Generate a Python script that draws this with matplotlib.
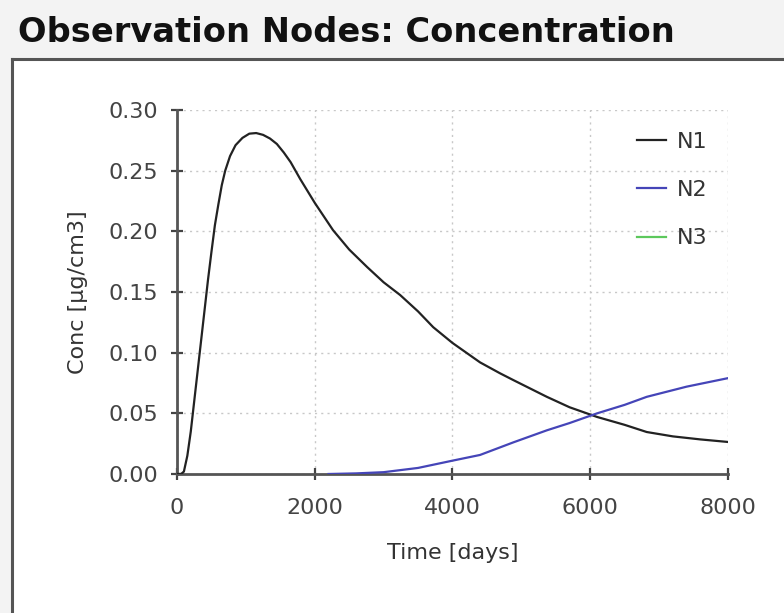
import matplotlib
matplotlib.use("Agg")
import matplotlib.pyplot as plt
from matplotlib.patches import Rectangle
from matplotlib.lines import Line2D

# Concentration time series at the observation nodes
n1_time = [0, 60, 100, 150, 200, 250, 300, 350, 400, 450, 500, 550, 600,
           650, 700, 770, 850, 950, 1050, 1150, 1250, 1350, 1450, 1550, 1650,
           1790, 2000, 2265, 2500, 2760, 3000, 3240, 3500, 3720, 4000, 4400,
           4690, 4880, 5370, 5700, 6100, 6500, 6820, 7200, 7600, 8000]
n1_conc = [0.0, 0.0, 0.002, 0.015, 0.035, 0.06, 0.085, 0.11, 0.135, 0.16,
           0.183, 0.205, 0.222, 0.238, 0.25, 0.262, 0.271, 0.277, 0.2805,
           0.281, 0.2795, 0.2765, 0.272, 0.265, 0.257, 0.243, 0.2235, 0.201,
           0.185, 0.1706, 0.158, 0.1475, 0.134, 0.121, 0.108, 0.092, 0.083,
           0.0775, 0.0636, 0.055, 0.047, 0.0405, 0.0346, 0.031, 0.0285, 0.0264]

n2_time = [2200, 2600, 3000, 3500, 4000, 4400, 4880, 5370, 5700, 6100,
           6500, 6820, 7400, 8000]
n2_conc = [0.0, 0.0005, 0.0015, 0.005, 0.011, 0.0157, 0.026, 0.036, 0.042,
           0.050, 0.057, 0.0636, 0.072, 0.079]

n3_time = []
n3_conc = []

series_names = ["N1", "N2", "N3"]
series_colors = ["#222222", "#4545b8", "#5cc85c"]

x_ticks = [0, 2000, 4000, 6000, 8000]
y_ticks = [0.00, 0.05, 0.10, 0.15, 0.20, 0.25, 0.30]

W, H = 784, 613
fig = plt.figure(figsize=(W / 100, H / 100), dpi=100, facecolor="#f3f3f3")

# white panel with a frame on its top and left edges
panel_x, panel_y = 12 / W, 0.0
panel_top = 1 - 59 / H
fig.patches.append(Rectangle((panel_x, panel_y), 1 - panel_x, panel_top,
                             transform=fig.transFigure, facecolor="white",
                             edgecolor="none", zorder=-2))
fig.lines.append(Line2D([panel_x, 1], [panel_top, panel_top],
                        transform=fig.transFigure, color="#555555", lw=2.2,
                        zorder=-1))
fig.lines.append(Line2D([panel_x, panel_x], [0, panel_top],
                        transform=fig.transFigure, color="#555555", lw=2.2,
                        zorder=-1))

fig.text(18 / W, 1 - 32 / H, "Observation Nodes: Concentration",
         fontsize=24.2, fontweight="bold", color="#111111", va="center",
         ha="left")

ax = fig.add_axes([177 / W, 1 - 474 / H, (728 - 177) / W, (474 - 110) / H])
ax.set_facecolor("none")
ax.set_zorder(1)

series = [(n1_time, n1_conc), (n2_time, n2_conc), (n3_time, n3_conc)]
for (t, c), name, col in zip(series, series_names, series_colors):
    ax.plot(t, c, color=col, lw=1.6, label=name, zorder=3)

ax.set_xlim(0, 8000)
ax.set_ylim(0, 0.30)
ax.set_xticks(x_ticks)
ax.set_yticks(y_ticks)
ax.set_xticklabels([str(v) for v in x_ticks])
ax.set_yticklabels([f"{v:.2f}" for v in y_ticks])

for side in ("top", "right"):
    ax.spines[side].set_visible(False)
for side in ("left", "bottom"):
    ax.spines[side].set_color("#555555")
    ax.spines[side].set_linewidth(2.0)

ax.tick_params(direction="inout", length=9, width=1.6, color="#444444",
               labelsize=16, labelcolor="#444444")
ax.tick_params(axis="x", pad=13)
ax.tick_params(axis="y", pad=9)
ax.grid(True, color="#c8c8c8", linestyle=(0, (1.5, 3)), linewidth=1.0)
ax.set_axisbelow(True)

ax.set_xlabel("Time [days]", fontsize=16, color="#333333", labelpad=18)
ax.set_ylabel("Conc [µg/cm3]", fontsize=16, color="#333333", labelpad=15)

leg = ax.legend(loc="upper left", bbox_to_anchor=(617 / W, 1 - 112 / H),
                bbox_transform=fig.transFigure, frameon=False, fontsize=16,
                handlelength=1.3, handletextpad=0.5, labelspacing=1.27)
for txt in leg.get_texts():
    txt.set_color("#333333")

fig.savefig("out.png", dpi=100, facecolor=fig.get_facecolor())
